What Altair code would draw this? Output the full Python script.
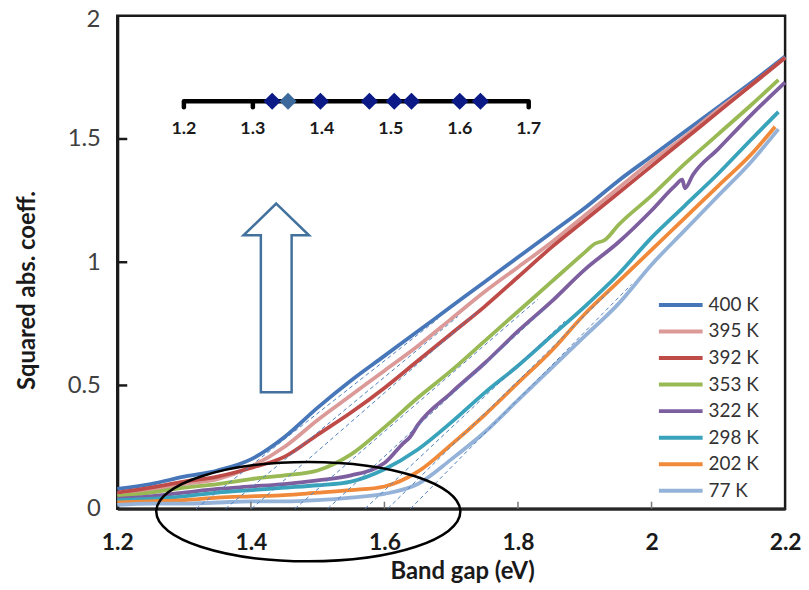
import altair as alt
import pandas as pd

FONT = "Lato"

# ---------------- data ----------------
SERIES = ["400 K", "395 K", "392 K", "353 K", "322 K", "298 K", "202 K", "77 K"]
COLORS = ["#4777B9", "#DB9A98", "#BE4B48", "#98B954", "#7D5FA0", "#38A3BA", "#F08A3A", "#95B3D9"]

GRID = [1.20, 1.25, 1.30, 1.35, 1.40, 1.45, 1.50, 1.55, 1.60, 1.65,
        1.70, 1.75, 1.80, 1.85, 1.90, 1.95, 2.00, 2.05, 2.10, 2.15]
Y_400 = [0.08, 0.10, 0.13, 0.155, 0.20, 0.29, 0.41, 0.52, 0.62, 0.72,
         0.82, 0.92, 1.02, 1.12, 1.22, 1.33, 1.43, 1.53, 1.63, 1.73]
Y_395 = [0.06, 0.075, 0.10, 0.12, 0.17, 0.25, 0.36, 0.46, 0.56, 0.66,
         0.77, 0.88, 0.98, 1.08, 1.19, 1.30, 1.41, 1.51, 1.62, 1.72]
Y_392 = [0.065, 0.085, 0.11, 0.13, 0.165, 0.21, 0.30, 0.39, 0.49, 0.60,
         0.71, 0.82, 0.94, 1.06, 1.17, 1.28, 1.39, 1.50, 1.61, 1.72]
Y_353 = [0.05, 0.065, 0.085, 0.10, 0.12, 0.135, 0.155, 0.22, 0.33, 0.45,
         0.56, 0.68, 0.80, 0.92, 1.04, 1.15, 1.27, 1.40, 1.52, 1.64]
Y_322 = [0.04, 0.05, 0.065, 0.08, 0.09, 0.10, 0.115, 0.135, 0.185, 0.34,
         0.47, 0.59, 0.72, 0.84, 0.97, 1.08, 1.21, 1.30, 1.46, 1.60]
Y_298 = [0.035, 0.04, 0.05, 0.065, 0.075, 0.085, 0.095, 0.11, 0.16, 0.24,
         0.35, 0.47, 0.58, 0.70, 0.82, 0.95, 1.10, 1.23, 1.36, 1.50]
Y_202 = [0.025, 0.03, 0.035, 0.045, 0.05, 0.055, 0.065, 0.075, 0.09, 0.15,
         0.26, 0.38, 0.51, 0.64, 0.79, 0.92, 1.05, 1.18, 1.31, 1.44]
Y_77 = [0.015, 0.02, 0.02, 0.025, 0.03, 0.03, 0.035, 0.045, 0.06, 0.10,
        0.20, 0.31, 0.44, 0.57, 0.70, 0.83, 0.99, 1.13, 1.27, 1.41]
END_X = [2.20, 2.20, 2.20, 2.19, 2.20, 2.19, 2.185, 2.19]
END_Y = [1.835, 1.83, 1.83, 1.74, 1.73, 1.61, 1.55, 1.54]

# small irregularities
X_353_EXTRA = [1.915, 1.93]
Y_353_EXTRA = [1.075, 1.09]
X_322_EXTRA = [1.628, 1.638, 2.035, 2.046, 2.062]
Y_322_EXTRA = [0.265, 0.29, 1.31, 1.335, 1.355]

# dashed tangents (x-intercept -> upper point)
TAN_X0 = [1.318, 1.362, 1.401, 1.466, 1.515, 1.571, 1.605, 1.639]
TAN_X1 = [1.68, 1.71, 1.74, 1.83, 1.84, 1.87, 1.94, 1.97]
TAN_Y1 = [0.77, 0.78, 0.80, 0.85, 0.81, 0.76, 0.89, 0.91]

# inset: band gaps on a number line
BANDGAPS = [1.328, 1.351, 1.398, 1.469, 1.505, 1.530, 1.600, 1.630]
HIGHLIGHT = [False, True, False, False, False, False, False, False]
INSET_TICKS = [1.2, 1.3, 1.7]
INSET_LABELS = [1.2, 1.3, 1.4, 1.5, 1.6, 1.7]

X_TICKS = [1.2, 1.4, 1.6, 1.8, 2.0, 2.2]
Y_TICKS = [0, 0.5, 1, 1.5, 2]
Y_TOP = [2]

# ---------------- tables ----------------
rows = []
for name, ys, ex, ey in zip(SERIES, [Y_400, Y_395, Y_392, Y_353, Y_322, Y_298, Y_202, Y_77], END_X, END_Y):
    for x, y in zip(GRID, ys):
        rows.append({"T": name, "x": x, "y": y})
    rows.append({"T": name, "x": ex, "y": ey})
for x, y in zip(X_353_EXTRA, Y_353_EXTRA):
    rows.append({"T": "353 K", "x": x, "y": y})
for x, y in zip(X_322_EXTRA, Y_322_EXTRA):
    rows.append({"T": "322 K", "x": x, "y": y})
curves = pd.DataFrame(rows)

tangents = pd.DataFrame({"T": SERIES, "x": TAN_X0, "y": [0] * 8, "x1": TAN_X1, "y1": TAN_Y1})

# ---------------- main panel ----------------
x_scale = alt.Scale(domain=[1.2, 2.2], nice=False, zero=False)
y_scale = alt.Scale(domain=[0, 2], nice=False, zero=False)
color_scale = alt.Scale(domain=SERIES, range=COLORS)

x_axis = alt.Axis(values=X_TICKS, format="~g", ticks=False, grid=False, labelOverlap=False,
                  labelFlush=False, domainColor="#262626", domainWidth=3,
                  labelFont=FONT, labelFontSize=23, labelFontWeight="bold", labelColor="#1a1a1a",
                  labelPadding=23, titleFont=FONT, titleFontSize=24, titleFontWeight="bold",
                  titleColor="#1a1a1a", titleX=347, titleY=63, titleAlign="center",
                  titleBaseline="middle")
y_axis = alt.Axis(values=Y_TICKS, format="~g", ticks=False, grid=False, labelOverlap=False,
                  labelFlush=False, domainColor="#1a1a1a", domainWidth=3,
                  labelExpr="datum.value == 2 ? '' : datum.label",
                  labelFont=FONT, labelFontSize=24, labelColor="#404040", labelPadding=17,
                  titleFont=FONT, titleFontSize=24, titleFontWeight="bold", titleColor="#1a1a1a",
                  titleX=-90, titleY=276, titleAngle=-90, titleAlign="center",
                  titleBaseline="middle")


def X(field):
    return alt.X(field, scale=x_scale, axis=x_axis, title="Band gap (eV)")


def Y(field):
    return alt.Y(field, scale=y_scale, axis=y_axis, title="Squared abs. coeff.")


lines = alt.Chart(curves).mark_line(strokeWidth=3.8, interpolate="monotone").encode(
    x=X("x:Q"), y=Y("y:Q"),
    color=alt.Color("T:N", scale=color_scale, legend=None),
)

dashes = alt.Chart(tangents).mark_rule(strokeWidth=1.0, strokeDash=[4, 3], color="#4F81BD").encode(
    x=X("x:Q"), y=Y("y:Q"), x2="x1:Q", y2="y1:Q"
)

ytick = alt.Chart(pd.DataFrame({"y": [0.5, 1, 1.5]})).mark_rule(strokeWidth=2.5, color="#1a1a1a").encode(
    y=Y("y:Q"), x=alt.value(0), x2=alt.value(10)
)
xtick = alt.Chart(pd.DataFrame({"x": [1.4, 1.6, 1.8, 2.0]})).mark_rule(strokeWidth=1.5, color="#777777").encode(
    x=X("x:Q"), y=alt.value(496), y2=alt.value(489)
)

# top tick label, nudged down a little so that its glyph stays inside the page
top_label = alt.Chart(pd.DataFrame({"y": Y_TOP})).mark_text(
    font=FONT, fontSize=24, color="#404040", align="right", baseline="middle", dy=4
).encode(y=Y("y:Q"), x=alt.value(-17), text=alt.Text("y:Q", format="~g"))

ELLIPSE = ("M-1,0C-1,-0.1806,-0.5523,-0.327,0,-0.327C0.5523,-0.327,1,-0.1806,1,0"
           "C1,0.1806,0.5523,0.327,0,0.327C-0.5523,0.327,-1,0.1806,-1,0Z")
ellipse = alt.Chart(pd.DataFrame({"a": [0]})).mark_point(
    shape=ELLIPSE, size=306 * 306, filled=False, color="black", strokeWidth=2.5, opacity=1
).encode(x=alt.datum(1.486), y=alt.datum(-0.012))

ARROW = "M0,-1L0.347,-0.663L0.163,-0.663L0.163,1L-0.163,1L-0.163,-0.663L-0.347,-0.663Z"
arrow = alt.Chart(pd.DataFrame({"a": [0]})).mark_point(
    shape=ARROW, size=190 * 190, filled=False, color="#41719C", strokeWidth=2.5, opacity=1,
    strokeJoin="miter"
).encode(x=alt.datum(1.438), y=alt.datum(0.855))

main = alt.layer(lines, dashes, ytick, xtick, top_label, arrow, ellipse)

# ---------------- inset number line ----------------
inset_scale = alt.Scale(domain=[1.2, 1.7], range=[67, 414], nice=False, zero=False)


def IX(f):
    return alt.X(f, scale=inset_scale, axis=None)


inset_line = alt.Chart(pd.DataFrame({"a": [1.2], "b": [1.7]})).mark_rule(
    strokeWidth=4.5, color="black").encode(x=IX("a:Q"), x2="b:Q", y=alt.value(86))
inset_ticks = alt.Chart(pd.DataFrame({"t": INSET_TICKS})).mark_rule(
    strokeWidth=4.5, color="black", strokeCap="round").encode(x=IX("t:Q"), y=alt.value(86), y2=alt.value(92))
inset_labels = alt.Chart(pd.DataFrame({"t": INSET_LABELS})).mark_text(
    font=FONT, fontSize=18, fontWeight="bold", color="#1a1a1a", baseline="middle", align="center"
).encode(x=IX("t:Q"), y=alt.value(114), text=alt.Text("t:Q", format=".1f"))
inset_pts = alt.Chart(pd.DataFrame({"v": BANDGAPS, "hl": HIGHLIGHT})).mark_point(
    shape="diamond", size=300, filled=True, opacity=1
).encode(
    x=IX("v:Q"), y=alt.value(86),
    fill=alt.condition("datum.hl", alt.value("#3D6A9C"), alt.value("#0B1A86")),
)
inset = alt.layer(inset_line, inset_ticks, inset_pts, inset_labels)

# ---------------- legend ----------------
leg = pd.DataFrame({"T": SERIES, "i": list(range(len(SERIES)))})
LY = alt.Y("i:Q", scale=alt.Scale(domain=[0, 7], range=[291, 478], nice=False, zero=False), axis=None)
leg_lines = alt.Chart(leg).mark_rule(strokeWidth=4).encode(
    x=alt.value(545), x2=alt.value(589), y=LY,
    color=alt.Color("T:N", scale=color_scale, legend=None))
leg_text = alt.Chart(leg).mark_text(font=FONT, fontSize=19, color="#333333", align="left",
                                    baseline="middle").encode(x=alt.value(595), y=LY, text="T:N")
legend = alt.layer(leg_lines, leg_text)

chart = alt.layer(main, inset, legend).resolve_scale(x="independent", y="independent").properties(
    width=672, height=496,
    autosize=alt.AutoSizeParams(type="none"),
    padding={"left": 110, "top": 6, "right": 16, "bottom": 76},
    background="white",
).configure_view(stroke="#1a1a1a", strokeWidth=2.5)

chart.save("out.html", embed_options={"renderer": "svg", "actions": False})
